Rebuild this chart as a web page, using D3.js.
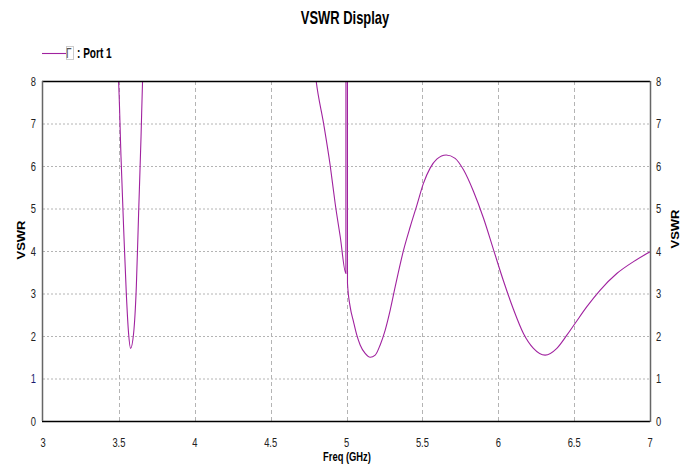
<!DOCTYPE html>
<html>
<head>
<meta charset="utf-8">
<script src="https://cdn.jsdelivr.net/npm/d3@7"></script>
<style>
  body { margin: 0; background: #fff; }
  text { font-family: "Liberation Sans", Arial, sans-serif; }
</style>
</head>
<body>
<div id="chart"></div>
<script>
var width = 692;
var height = 469;
var squeeze = 0.72; // the original picture is squeezed sideways

// freq (GHz) and VSWR; null = gap (curve off the top)
var freq = [3.49, 3.498, 3.514, 3.531, 3.549, 3.564, 3.577, 3.597, 3.615, 3.63, 3.646, 3.656, 3.665,
  null,
  4.79, 4.80, 4.849, 4.893, 4.926, 4.959, 4.996, 4.997, 5.006, 5.0065, 5.024, 5.046, 5.068, 5.090,
  5.123, 5.156, 5.189, 5.222, 5.255, 5.288, 5.321, 5.376, 5.42, 5.464, 5.507, 5.551, 5.595, 5.657,
  5.716, 5.771, 5.837, 5.903, 5.968, 6.034, 6.100, 6.166, 6.232, 6.309, 6.386, 6.452, 6.507, 6.584,
  6.672, 6.781, 6.891, 7.0];
var vswr = [8.4, 8.0, 6.22, 4.57, 3.0, 2.06, 1.71, 2.06, 3.16, 4.88, 6.69, 8.0, 8.8,
  null,
  8.3, 8.0, 7.0, 6.0, 5.1, 4.33, 3.47, 20, 20, 3.24, 2.69, 2.34, 2.02, 1.79,
  1.59, 1.50, 1.55, 1.79, 2.14, 2.61, 3.16, 4.02, 4.57, 5.08, 5.59, 5.95, 6.16, 6.26,
  6.18, 5.91, 5.40, 4.77, 4.04, 3.30, 2.63, 2.06, 1.71, 1.55, 1.71, 2.02, 2.30, 2.69,
  3.08, 3.47, 3.75, 3.98];

var xTicks = [3, 3.5, 4, 4.5, 5, 5.5, 6, 6.5, 7];
var yTicks = [0, 1, 2, 3, 4, 5, 6, 7, 8];

var data = freq.map(function(f, i) { return {f: f, v: vswr[i]}; });

var x = d3.scaleLinear().domain([3, 7]).range([43, 650]);
var y = d3.scaleLinear().domain([0, 8]).range([421, 81]);

var svg = d3.select("#chart").append("svg")
  .attr("width", width)
  .attr("height", height);

// squeezed text helper
function label(px, py, str, size, anchor, rot, sq) {
  return svg.append("text")
    .attr("transform", "translate(" + px + "," + py + ") scale(" + (sq || squeeze) + ",1)" + (rot ? " rotate(" + rot + ")" : ""))
    .attr("dy", "0.36em")
    .attr("text-anchor", anchor || "middle")
    .attr("font-size", size)
    .attr("fill", "#222")
    .text(str);
}

// grid
svg.append("g").selectAll("line")
  .data(yTicks.slice(1, -1))
  .enter().append("line")
  .attr("x1", x(3)).attr("x2", x(7))
  .attr("y1", function(d) { return y(d) + 0.5; })
  .attr("y2", function(d) { return y(d) + 0.5; })
  .attr("stroke", "#b4b4b4")
  .attr("stroke-dasharray", "2,2");

svg.append("g").selectAll("line")
  .data(xTicks.slice(1, -1))
  .enter().append("line")
  .attr("x1", function(d) { return Math.round(x(d)) + 0.5; })
  .attr("x2", function(d) { return Math.round(x(d)) + 0.5; })
  .attr("y1", y(8)).attr("y2", y(0))
  .attr("stroke", "#b4b4b4")
  .attr("stroke-dasharray", "4,3");

// curve
svg.append("clipPath").attr("id", "clip")
  .append("rect")
  .attr("x", x(3)).attr("y", y(8))
  .attr("width", x(7) - x(3)).attr("height", y(0) - y(8));

var line = d3.line()
  .defined(function(d) { return d.f != null; })
  .x(function(d) { return x(d.f); })
  .y(function(d) { return y(d.v); })
  .curve(d3.curveMonotoneX);

svg.append("path")
  .datum(data)
  .attr("clip-path", "url(#clip)")
  .attr("fill", "none")
  .attr("stroke", "#a0229f")
  .attr("stroke-width", 1.1)
  .attr("d", line);

// frame
svg.append("line").attr("x1", x(3) - 1).attr("x2", x(7)).attr("y1", y(8) + 0.5).attr("y2", y(8) + 0.5)
  .attr("stroke", "#000").attr("stroke-width", 1.5);
svg.append("line").attr("x1", x(3) - 1).attr("x2", x(7)).attr("y1", y(0) + 0.5).attr("y2", y(0) + 0.5)
  .attr("stroke", "#000").attr("stroke-width", 1.5);
svg.append("line").attr("x1", x(3) - 0.5).attr("x2", x(3) - 0.5).attr("y1", y(8)).attr("y2", y(0))
  .attr("stroke", "#666").attr("stroke-width", 1.5);
svg.append("line").attr("x1", x(7) + 0.5).attr("x2", x(7) + 0.5).attr("y1", y(8)).attr("y2", y(0) + 1)
  .attr("stroke", "#666").attr("stroke-width", 1.5);

// tick labels
yTicks.forEach(function(d) {
  label(36, y(d), d, 13, "end").attr("fill", d == 1 ? "#1a1a6e" : "#222");
  label(656, y(d), d, 13, "start");
});
xTicks.forEach(function(d) {
  label(x(d), 442, d, 13, "middle");
});

// titles
label(345, 18, "VSWR Display", 18, "middle").attr("font-weight", "bold").attr("fill", "#000");
label(347, 456, "Freq (GHz)", 13, "middle").attr("font-weight", "bold").attr("fill", "#000");
label(21, 240, "VSWR", 13, "middle", -90, 0.85).attr("font-weight", "bold").attr("fill", "#000");
label(675, 229, "VSWR", 13, "middle", -90, 0.85).attr("font-weight", "bold").attr("fill", "#000");

// legend
svg.append("line")
  .attr("x1", 42).attr("x2", 66).attr("y1", 53.5).attr("y2", 53.5)
  .attr("stroke", "#a0229f").attr("stroke-width", 1.1);
svg.append("rect")
  .attr("x", 66.5).attr("y", 46.5).attr("width", 7).attr("height", 13)
  .attr("fill", "none").attr("stroke", "#ccc");
label(66, 53, "Γ", 14, "start").attr("fill", "#555");
label(77, 53, ": Port 1", 14, "start").attr("font-weight", "bold").attr("fill", "#000");
</script>
</body>
</html>
